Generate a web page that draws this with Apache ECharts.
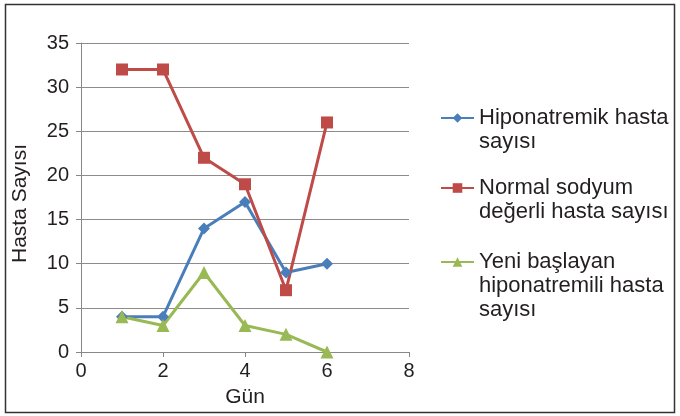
<!DOCTYPE html>
<html>
<head>
<meta charset="utf-8">
<script src="https://cdn.jsdelivr.net/npm/echarts@6/dist/echarts.min.js"></script>
<style>
  html, body { margin: 0; padding: 0; background: #fff; }
  #main { width: 680px; height: 416px; }
</style>
</head>
<body>
<div id="main"></div>
<script>
const days = [1, 2, 3, 4, 5, 6];
const hiponatremik = [4, 4, 14, 17, 9, 10];
const normalSodyum = [32, 32, 22, 19, 7, 26];
const yeniBaslayan = [4, 3, 9, 3, 2, 0];
const seriesNames = [
  'Hiponatremik hasta sayısı',
  'Normal sodyum değerli hasta sayısı',
  'Yeni başlayan hiponatremili hasta sayısı'
];
// blank lines on top keep the legend icon level with the first text line
const legendLabels = [
  '\nHiponatremik hasta\nsayısı',
  '\nNormal sodyum\ndeğerli hasta sayısı',
  '\n\nYeni başlayan\nhiponatremili hasta\nsayısı'
];
const legendTops = [82, 152, 202];

const pairs = vals => days.map((d, i) => [d, vals[i]]);
const textColor = '#231f20';
const font = 'Liberation Sans, Arial, sans-serif';

const legends = seriesNames.map((name, i) => ({
  orient: 'vertical',
  left: 440, top: legendTops[i], padding: 0,
  itemWidth: 33, itemHeight: 12,
  data: [name],
  formatter: () => legendLabels[i],
  textStyle: { fontSize: 22, color: textColor, fontFamily: font, lineHeight: 24 }
}));

const chart = echarts.init(document.getElementById('main'));
chart.setOption({
  animation: false,
  graphic: [{
    type: 'rect',
    shape: { x: 5.5, y: 4.5, width: 669, height: 408 },
    style: { fill: 'none', stroke: '#333', lineWidth: 1.5 },
    silent: true
  }],
  grid: { left: 81, right: 271, top: 43, bottom: 64 },
  xAxis: {
    type: 'value', min: 0, max: 8, interval: 2,
    name: 'Gün', nameLocation: 'middle', nameGap: 35,
    nameTextStyle: { fontSize: 21, color: textColor, fontFamily: font },
    axisLine: { show: true, lineStyle: { color: '#888', width: 1 } },
    axisTick: { show: true, length: 5, lineStyle: { color: '#888' } },
    axisLabel: { fontSize: 20, color: textColor, fontFamily: font, margin: 9 },
    splitLine: { show: false }
  },
  yAxis: {
    type: 'value', min: 0, max: 35, interval: 5,
    name: 'Hasta Sayısı', nameLocation: 'middle', nameGap: 50,
    nameTextStyle: { fontSize: 21, color: textColor, fontFamily: font, padding: [0, 12, 0, 0] },
    axisLine: { show: true, lineStyle: { color: '#888', width: 1 } },
    axisTick: { show: true, length: 5, lineStyle: { color: '#888' } },
    axisLabel: { fontSize: 20, color: textColor, fontFamily: font, margin: 12 },
    splitLine: { show: true, lineStyle: { color: '#8c8c8c', width: 1 } }
  },
  legend: legends,
  series: [
    {
      name: seriesNames[0], type: 'line', data: pairs(hiponatremik),
      symbol: 'diamond', symbolSize: 12,
      itemStyle: { color: '#4a7ebb' }, lineStyle: { color: '#4a7ebb', width: 3 }
    },
    {
      name: seriesNames[1], type: 'line', data: pairs(normalSodyum),
      symbol: 'rect', symbolSize: 12,
      itemStyle: { color: '#be4b48' }, lineStyle: { color: '#be4b48', width: 3 }
    },
    {
      name: seriesNames[2], type: 'line', data: pairs(yeniBaslayan),
      symbol: 'triangle', symbolSize: 13,
      itemStyle: { color: '#98b954' }, lineStyle: { color: '#98b954', width: 3 }
    }
  ]
});
</script>
</body>
</html>
